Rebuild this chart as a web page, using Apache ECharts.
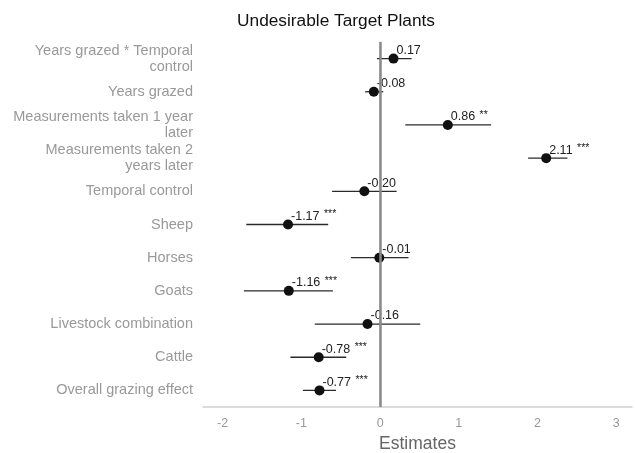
<!DOCTYPE html>
<html><head><meta charset="utf-8">
<script src="https://cdn.jsdelivr.net/npm/echarts@6/dist/echarts.min.js"></script>
<style>html,body{margin:0;padding:0;background:#fff}#c{width:635px;height:453px}</style>
</head><body><div id="c"></div>
<script>
// bottom to top
const categories = ["Overall grazing effect","Cattle","Livestock combination","Goats","Horses","Sheep","Temporal control","Measurements taken 2\nyears later","Measurements taken 1 year\nlater","Years grazed","Years grazed * Temporal\ncontrol"];
const estimates = [-0.77,-0.78,-0.16,-1.16,-0.01,-1.17,-0.20,2.11,0.86,-0.08,0.17];
const lower = [-0.98,-1.14,-0.83,-1.73,-0.37,-1.70,-0.61,1.88,0.32,-0.19,-0.04];
const upper = [-0.56,-0.43,0.51,-0.60,0.36,-0.66,0.21,2.38,1.41,0.04,0.40];
const stars = ["***","***","","***","","***","","***","**","",""];
const xTicks = [-2,-1,0,1,2,3];

const chart = echarts.init(document.getElementById('c'));
const font = "'Liberation Sans', Arial, Helvetica, sans-serif";
chart.setOption({
  animation:false,
  textStyle:{fontFamily:font},
  title:{text:'Undesirable Target Plants',left:331,top:8,textAlign:'center',textStyle:{fontSize:17.3,fontWeight:'normal',color:'#111',fontFamily:font}},
  grid:{left:203,right:3,top:42,bottom:46,containLabel:false,outerBoundsMode:'none'},
  xAxis:{type:'value',min:-2.25,max:3.2,interval:1,
    name:'Estimates',nameLocation:'middle',nameGap:18,nameTextStyle:{fontSize:17.5,color:'#666',fontFamily:font},
    axisLine:{show:true,lineStyle:{color:'#d0d0d0',width:1.5}},axisTick:{show:false},splitLine:{show:false},
    axisLabel:{color:'#999',fontSize:12.5,margin:10,customValues:xTicks},
  },
  yAxis:{type:'category',data:categories,
    axisLine:{show:true,lineStyle:{color:'#d0d0d0',width:1.5}},axisTick:{show:false},splitLine:{show:false},
    axisLabel:{color:'#999',fontSize:14.5,margin:10,lineHeight:16,fontFamily:font}
  },
  series:[
    {type:'line',data:[],markLine:{silent:true,symbol:'none',label:{show:false},lineStyle:{color:'#8a8a8a',width:2.5,type:'solid'},data:[{xAxis:0}]}},
    {type:'custom',z:3,data:categories.map((c,i)=>[lower[i],upper[i],i]),
      renderItem:(params,api)=>{
        const a=api.coord([api.value(0),api.value(2)]);
        const b=api.coord([api.value(1),api.value(2)]);
        return {type:'line',shape:{x1:a[0],y1:a[1],x2:b[0],y2:b[1]},style:{stroke:'#2a2a2a',lineWidth:1.3}};
      }},
    {type:'scatter',z:4,symbol:'circle',symbolSize:10,itemStyle:{color:'#111',opacity:1},
      data:estimates.map((v,i)=>[v,i]),
      label:{show:true,position:[8,-3],align:'left',verticalAlign:'middle',color:'#222',fontSize:12.5,fontFamily:font,
        formatter:p=>{const v=estimates[p.dataIndex].toFixed(2);const s=stars[p.dataIndex];return s?'{n|'+v+'} {s|'+s+'}':'{n|'+v+'}';},
        rich:{n:{fontSize:12.5,color:'#222',fontFamily:font},s:{fontSize:10.5,color:'#222',fontFamily:font,padding:[0,0,4,1]}}
      }}
  ]
});
</script></body></html>
